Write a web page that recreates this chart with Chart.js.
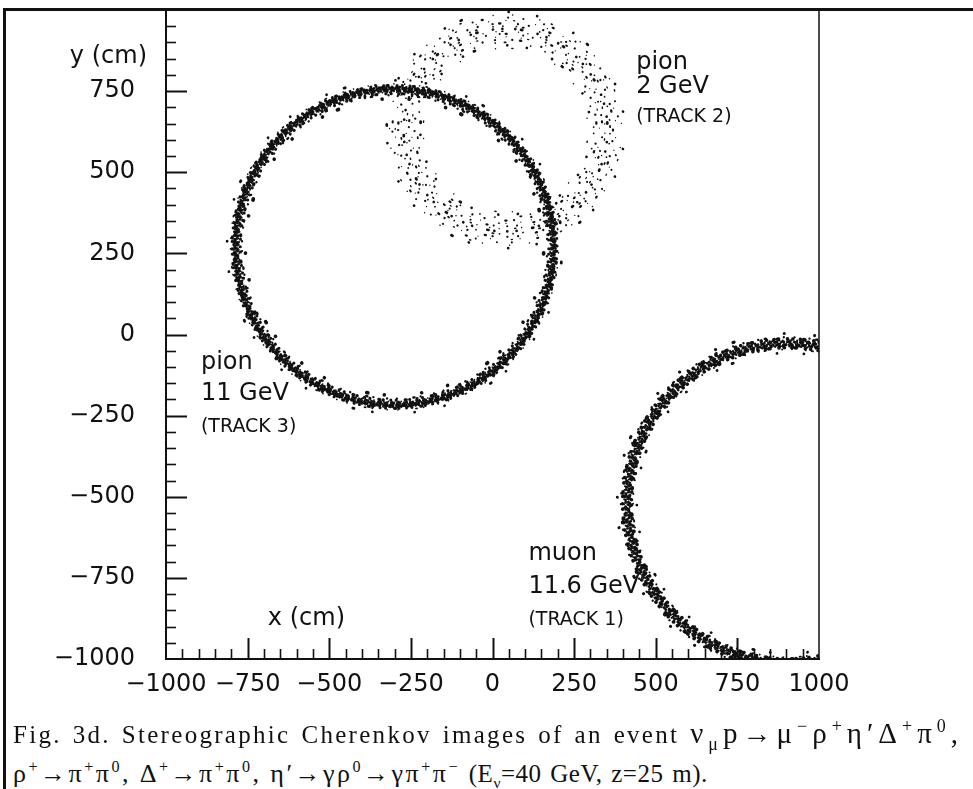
<!DOCTYPE html>
<html>
<head>
<meta charset="utf-8">
<script src="https://cdn.jsdelivr.net/npm/chart.js@4.4.1/dist/chart.umd.min.js"></script>
<style>
  html, body { margin: 0; padding: 0; background: #fff; }
  body { width: 973px; height: 789px; position: relative; overflow: hidden; }
  #frame {
    position: absolute; left: 3px; top: 8px; width: 990px; height: 800px;
    border-left: 3px solid #111; border-top: 3px solid #111;
  }
  #wrap { position: absolute; left: 0; top: 0; width: 973px; height: 720px; }
  .cap {
    position: absolute; left: 13px; color: #111; white-space: nowrap;
    font-family: "Liberation Serif", "Times New Roman", serif;
    font-size: 25px; line-height: 25px;
  }
  #cap1 { top: 721px; letter-spacing: 2.3px; }
  #cap2 { top: 761px; letter-spacing: 0.5px; word-spacing: 2px; }
  .cap .f { font-size: 29px; letter-spacing: 5px; }
  #cap2 .f { font-size: 26px; letter-spacing: 2.5px; }
  .cap sup, .cap sub { font-size: 62%; line-height: 0; }
</style>
</head>
<body>
<div id="frame"></div>
<div id="wrap"><canvas id="rings" width="973" height="720"></canvas></div>
<div class="cap" id="cap1">Fig. 3d. Stereographic Cherenkov images of an event <span class="f">ν<sub>μ</sub>p→μ<sup>−</sup>ρ<sup>+</sup>η′Δ<sup>+</sup>π<sup>0</sup>,</span></div>
<div class="cap" id="cap2"><span class="f">ρ<sup>+</sup>→π<sup>+</sup>π<sup>0</sup>,</span> <span class="f">Δ<sup>+</sup>→π<sup>+</sup>π<sup>0</sup>,</span> <span class="f">η′→γρ<sup>0</sup>→γπ<sup>+</sup>π<sup>−</sup></span> (E<sub>ν</sub>=40 GeV, z=25 m).</div>
<script>
'use strict';

// ── Data ─────────────────────────────────────────────────────────
const xTickValues = [-1000, -750, -500, -250, 0, 250, 500, 750, 1000];
const yTickValues = [-1000, -750, -500, -250, 0, 250, 500, 750];
const minorStep = 50;

// one Cherenkov ring per track: centre, radius and radial spread (cm)
const tracks    = ['TRACK 1', 'TRACK 2', 'TRACK 3'];
const particles = ['muon', 'pion', 'pion'];
const energies  = ['11.6 GeV', '2 GeV', '11 GeV'];
const ringX      = [905, 40, -300];
const ringY      = [-520, 630, 270];
const ringR      = [493, 307, 485];
const ringSpread = [30, 88, 28];

// ── Look ─────────────────────────────────────────────────────────
const INK = '#111';
const SANS = '"DejaVu Sans", sans-serif';

// label anchors in data units (x, then one baseline per text line)
const labelAt = [
  { x: 110,  y: [-695, -797, -895] },
  { x: 440,  y: [818, 745, 655] },
  { x: -893, y: [-105, -203, -302] },
];

// speckle of photon hits: one dotted ellipse per layer across the band
// offs = layer position as a fraction of the spread, gaps = dot spacing (px)
const denseLook = {
  offs: [-1.0, -0.62, -0.45, -0.3, -0.15, 0, 0.15, 0.3, 0.45, 0.62, 1.0],
  gaps: [30, 11, 6, 4, 2.8, 2.4, 2.8, 4, 6, 12, 34],
  dot: 2.8,
};
const sparseLook = {
  offs: [-0.62, -0.52, -0.42, -0.32, -0.22, -0.12, -0.03, 0.06, 0.15, 0.25, 0.35, 0.45, 0.55, 0.65],
  gaps: [30, 22, 17, 14, 12, 11, 10.5, 10.5, 11, 12, 14, 17, 22, 32],
  dot: 2.1,
};
const ringLook = [denseLook, sparseLook, denseLook];
const dotScale = [1, 0.7, 1.3, 0.85, 1.1, 0.6];

// ── Helpers ──────────────────────────────────────────────────────
const fmt = (v) => (v < 0 ? '\u2212' + Math.abs(v) : String(v));

function line(ctx, x1, y1, x2, y2) {
  ctx.beginPath();
  ctx.moveTo(x1, y1);
  ctx.lineTo(x2, y2);
  ctx.stroke();
}

// stretch a caption line to a given width through its word spacing
function fitLine(id, width) {
  const el = document.getElementById(id);
  const spaces = (el.textContent.match(/ /g) || []).length;
  el.style.wordSpacing = '0px';
  const w = el.getBoundingClientRect().width;
  el.style.wordSpacing = Math.max(0, (width - w) / spaces).toFixed(2) + 'px';
}

// ── Plugins ──────────────────────────────────────────────────────
const ringPlugin = {
  id: 'rings',
  beforeDatasetsDraw(chart) {
    const { ctx, chartArea: a, scales: { x, y } } = chart;
    ctx.save();
    ctx.beginPath();
    ctx.rect(a.left, a.top, a.right - a.left, a.bottom - a.top);
    ctx.clip();
    ctx.strokeStyle = INK;
    ctx.lineCap = 'round';

    ringX.forEach((cx, i) => {
      const cy = ringY[i];
      const px = x.getPixelForValue(cx);
      const py = y.getPixelForValue(cy);
      const look = ringLook[i];

      look.offs.forEach((f, k) => {
        const rr = ringR[i] + f * ringSpread[i];
        const rx = Math.abs(x.getPixelForValue(cx + rr) - px);
        const ry = Math.abs(y.getPixelForValue(cy + rr) - py);
        const g = look.gaps[k];
        ctx.lineWidth = look.dot * dotScale[(k + i) % dotScale.length];
        ctx.setLineDash([0.01, g * 0.55, 1.2, g * 1.5, 0.01, g * 0.9, 0.01, g * 1.25]);
        ctx.lineDashOffset = k * 13.7 + i * 5.3;
        ctx.beginPath();
        ctx.ellipse(px, py, rx, ry, 0, 0, Math.PI * 2);
        ctx.stroke();
      });
    });
    ctx.restore();
  },
};

const axisPlugin = {
  id: 'frameTicks',
  afterDraw(chart) {
    const { ctx, chartArea: a, scales: { x, y } } = chart;
    ctx.save();
    ctx.strokeStyle = INK;

    // inward ticks, long every 250 cm, short every 50 cm
    for (let v = -1000 + minorStep; v < 1000; v += minorStep) {
      const major = v % 250 === 0;
      const len = major ? 21 : 10;
      ctx.lineWidth = major ? 2 : 1.6;
      const ty = Math.round(y.getPixelForValue(v)) + 0.5;
      const tx = Math.round(x.getPixelForValue(v)) + 0.5;
      line(ctx, a.left, ty, a.left + len, ty);
      line(ctx, tx, a.bottom, tx, a.bottom - len);
    }

    // right edge of the plot
    ctx.lineWidth = 1.5;
    line(ctx, a.right, a.top, a.right, a.bottom + 1);

    // track labels
    ctx.fillStyle = INK;
    ctx.textAlign = 'left';
    ctx.textBaseline = 'alphabetic';
    tracks.forEach((t, i) => {
      const at = labelAt[i];
      const lx = x.getPixelForValue(at.x);
      const rows = [particles[i], energies[i], '(' + t + ')'];
      rows.forEach((txt, r) => {
        ctx.font = (r === 2 ? '19px ' : '24px ') + SANS;
        ctx.fillText(txt, lx, y.getPixelForValue(at.y[r]));
      });
    });

    // axis names
    ctx.font = '24px ' + SANS;
    ctx.fillText('x (cm)', x.getPixelForValue(-688), y.getPixelForValue(-895));
    ctx.textAlign = 'right';
    ctx.fillText('y (cm)', a.left - 19, y.getPixelForValue(837));
    ctx.restore();
  },
};

// ── Chart ────────────────────────────────────────────────────────
const tickFont = { family: SANS, size: 24 };

new Chart(document.getElementById('rings'), {
  type: 'scatter',
  data: {
    datasets: tracks.map((t, i) => ({
      label: t,
      data: [{ x: ringX[i], y: ringY[i] }],
      pointRadius: 0,
    })),
  },
  options: {
    responsive: false,
    animation: false,
    events: [],
    layout: { padding: { top: 10, right: 154, left: 0, bottom: 0 } },
    plugins: { legend: { display: false }, tooltip: { enabled: false } },
    scales: {
      x: {
        type: 'linear',
        min: -1000,
        max: 1000,
        afterBuildTicks: (s) => { s.ticks = xTickValues.map((v) => ({ value: v })); },
        afterFit: (s) => { s.height = 61; s.paddingLeft = 0; s.paddingRight = 0; },
        grid: { drawOnChartArea: false, drawTicks: false },
        border: { color: INK, width: 2 },
        ticks: {
          color: INK, font: tickFont, padding: 11,
          maxRotation: 0, autoSkip: false,
          callback: (v) => fmt(v),
        },
      },
      y: {
        type: 'linear',
        min: -1000,
        max: 1000,
        afterBuildTicks: (s) => { s.ticks = yTickValues.map((v) => ({ value: v })); },
        afterFit: (s) => { s.width = 166; s.paddingTop = 0; s.paddingBottom = 0; },
        grid: { drawOnChartArea: false, drawTicks: false },
        border: { color: INK, width: 2 },
        ticks: {
          color: INK, font: tickFont, padding: 31,
          autoSkip: false,
          callback: (v) => fmt(v),
        },
      },
    },
  },
  plugins: [ringPlugin, axisPlugin],
});

// ── Caption ──────────────────────────────────────────────────────
fitLine('cap1', 950);
</script>
</body>
</html>
